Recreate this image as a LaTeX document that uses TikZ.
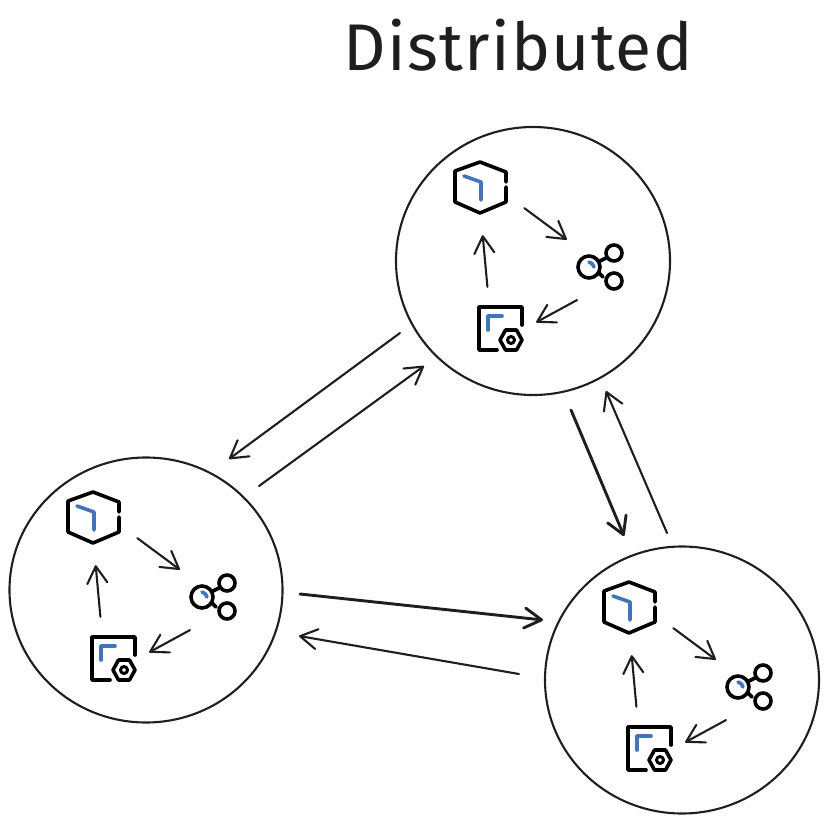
\documentclass[tikz,border=0pt]{standalone}
\usepackage{fontspec}
\setmainfont{Fira Sans}[LetterSpace=2]
\usetikzlibrary{arrows.meta,shapes.geometric}

\definecolor{ink}{HTML}{1E1E1E}
\definecolor{iconblue}{HTML}{3F74BF}

\tikzset{
  x=1pt, y=-1pt,
  flow/.style={-{Straight Barb[length=17pt,width=20pt,round]},draw=ink,line width=2.1pt,line cap=round},
  flowheavy/.style={flow,line width=2.9pt},
  member/.style={draw=ink,line width=2.1pt,ellipse,inner sep=0,fill=none},
  icon/.style={draw=black,line width=3.6pt,line cap=round,line join=round},
  iconmark/.style={draw=iconblue,line width=3.6pt,line cap=round,line join=round},
  port/.style={inner sep=0,draw=none},
  peer/.pic={
    \node[port,circle,minimum size=96pt] (-hex) at (0,0) {};
    \node[port,circle,minimum size=70pt] (-mesh) at (108,80) {};
    \node[port,rectangle,minimum width=72pt,minimum height=82pt] (-box) at (19,141) {};
    % hexagon
    \draw[icon] (25,-5) -- (25,-15) -- (-1,-25) -- (-26,-16) -- (-26,15) -- (-1,26) -- (25,15) -- (25,0);
    \draw[iconmark] (-17,-11) -- (0,-5) -- (0,13);
    % mesh
    \draw[icon] (108,80) circle[radius=11];
    \draw[icon] (133,66) circle[radius=8];
    \draw[icon] (133,94) circle[radius=8];
    \draw[icon] (119,74) -- (125,71);
    \draw[icon] (118,86) -- (122,90);
    \draw[iconmark] (108,75) to[bend left=30] (113,80);
    % box
    \draw[icon] (41,138) -- (41,120) -- (-2,120) -- (-2,163) -- (16,163);
    \draw[iconmark] (7,143) -- (7,129) -- (21,129);
    \draw[icon] (19,153) -- (24.500,143) -- (35.500,143) -- (41,153) -- (35.500,163) -- (24.500,163) -- cycle;
    \draw[icon,line width=3pt] (30,153) circle[radius=3.5];
    % flows
    \draw[flow] (-hex.-26) -- (-mesh.129);
    \draw[flow] (-mesh.250) -- (-box.9);
    \draw[flow] (-box.107) -- (-hex.-88);
  }
}

\begin{document}
\begin{tikzpicture}
  \useasboundingbox (0,0) rectangle (827,824);

  \node[text=ink,font=\fontsize{66}{68}\selectfont] (title) at (518,45) {Distributed};

  \node[member,minimum width=274pt,minimum height=268pt] (top) at (533,261) {};
  \node[member,minimum width=273pt,minimum height=265pt] (left) at (146,590) {};
  \node[member,minimum width=274pt,minimum height=267pt] (right) at (682,680) {};

  \pic (topp) at (481,187) {peer};
  \pic (leftp) at (94,517) {peer};
  \pic (rightp) at (630,607) {peer};

  \coordinate (topToLeft) at (400,333);
  \coordinate (leftIn) at (229,459);
  \coordinate (leftToTop) at (259,486);
  \coordinate (topIn) at (424,366);
  \coordinate (topToRight) at (571,410);
  \coordinate (rightIn) at (624,536);
  \coordinate (rightToTop) at (667,533);
  \coordinate (topBack) at (606,391);
  \coordinate (leftToRight) at (300,594);
  \coordinate (rightSide) at (543,620);
  \coordinate (rightToLeft) at (519,674);
  \coordinate (leftSide) at (299,636);

  \draw[flow] (topToLeft) -- (leftIn);
  \draw[flow] (leftToTop) -- (topIn);
  \draw[flowheavy] (topToRight) -- (rightIn);
  \draw[flow] (rightToTop) -- (topBack);
  \draw[flowheavy] (leftToRight) -- (rightSide);
  \draw[flow] (rightToLeft) -- (leftSide);
\end{tikzpicture}
\end{document}
